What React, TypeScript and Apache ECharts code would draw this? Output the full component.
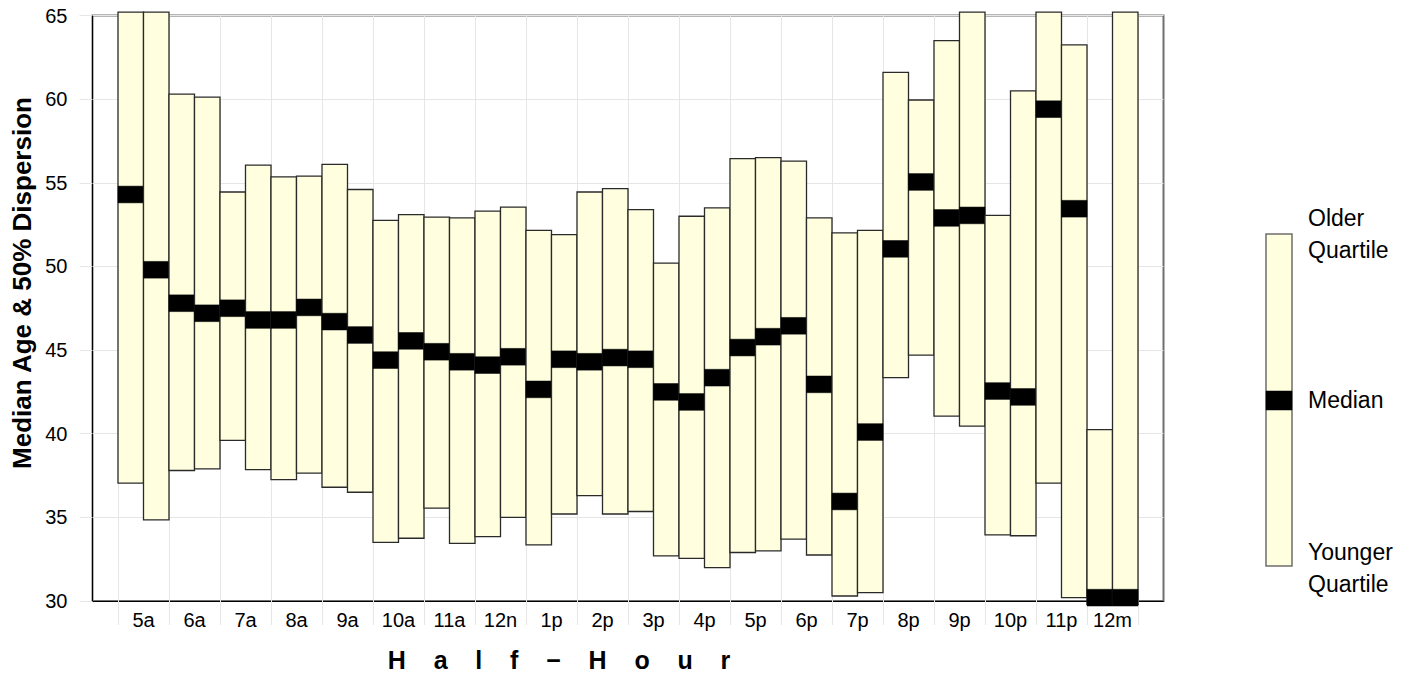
import React, { useEffect, useRef } from 'react';
import * as echarts from 'echarts';

// Hour tick labels (each hour spans two half-hour bars)
const hourLabels = ['5a', '6a', '7a', '8a', '9a', '10a', '11a', '12n', '1p', '2p', '3p', '4p', '5p', '6p', '7p', '8p', '9p', '10p', '11p', '12m'];

// Half-hour categories
const halfHours = [
  '5:00a', '5:30a', '6:00a', '6:30a', '7:00a', '7:30a', '8:00a', '8:30a', '9:00a', '9:30a',
  '10:00a', '10:30a', '11:00a', '11:30a', '12:00n', '12:30p', '1:00p', '1:30p', '2:00p', '2:30p',
  '3:00p', '3:30p', '4:00p', '4:30p', '5:00p', '5:30p', '6:00p', '6:30p', '7:00p', '7:30p',
  '8:00p', '8:30p', '9:00p', '9:30p', '10:00p', '10:30p', '11:00p', '11:30p', '12:00m', '12:30m',
];

// Older quartile (top of box)
const olderQuartile = [
  65.2, 65.2, 60.3, 60.12, 54.45, 56.05, 55.35, 55.4, 56.1, 54.6,
  52.75, 53.1, 52.95, 52.9, 53.3, 53.55, 52.15, 51.9, 54.45, 54.65,
  53.4, 50.2, 53.0, 53.5, 56.45, 56.5, 56.3, 52.9, 52.0, 52.15,
  61.6, 59.95, 63.5, 65.2, 53.05, 60.5, 65.2, 63.25, 40.25, 65.2,
];

// Median age
const medianAge = [
  54.3, 49.8, 47.8, 47.2, 47.5, 46.8, 46.8, 47.55, 46.7, 45.9,
  44.4, 45.55, 44.9, 44.3, 44.1, 44.6, 42.65, 44.45, 44.3, 44.55,
  44.45, 42.5, 41.9, 43.35, 45.15, 45.8, 46.45, 42.95, 35.95, 40.1,
  51.05, 55.05, 52.9, 53.05, 42.55, 42.2, 59.4, 53.45, 30.2, 30.2,
];

// Younger quartile (bottom of box)
const youngerQuartile = [
  37.05, 34.85, 37.8, 37.9, 39.6, 37.85, 37.25, 37.65, 36.8, 36.5,
  33.5, 33.75, 35.55, 33.45, 33.85, 35.0, 33.35, 35.2, 36.3, 35.2,
  35.35, 32.7, 32.55, 32.0, 32.9, 33.0, 33.7, 32.75, 30.3, 30.5,
  43.35, 44.7, 41.05, 40.45, 33.95, 33.9, 37.05, 30.2, 29.8, 29.8,
];

const MEDIAN_HALF = 0.5;
const FONT = '"Liberation Sans", Arial, Helvetica, sans-serif';
const BOX_FILL = '#FFFFE0';
const SP = '\u00A0\u00A0\u00A0\u00A0';

export default function App() {
  const ref = useRef<HTMLDivElement>(null);

  useEffect(() => {
    if (!ref.current) return;
    const chart = echarts.init(ref.current, null, { renderer: 'svg' });

    // 43 slot boundaries: hour labels at even positions 2..40
    const slotCats: string[] = [];
    for (let k = 0; k <= 42; k++) {
      slotCats.push(k % 2 === 0 && k >= 2 && k <= 40 ? hourLabels[k / 2 - 1] : '');
    }

    const data = halfHours.map((h, i) => [i, youngerQuartile[i], medianAge[i], olderQuartile[i]]);

    const option: any = {
      animation: false,
      backgroundColor: '#ffffff',
      textStyle: { fontFamily: FONT },
      grid: {
        left: 92.5,
        top: 15.5,
        right: 255.5,
        bottom: 74,
        show: true,
        borderColor: '#6f6f6f',
        borderWidth: 2,
        backgroundColor: '#ffffff',
      },
      xAxis: [
        {
          type: 'value',
          min: 0,
          max: 42,
          show: false,
        },
        {
          type: 'category',
          data: slotCats,
          boundaryGap: false,
          position: 'bottom',
          axisLine: { show: true, lineStyle: { color: '#000', width: 1 } },
          axisTick: {
            show: true,
            length: 24,
            interval: (idx: number) => idx % 2 === 1,
            lineStyle: { color: '#e6e6e6', width: 1 },
          },
          splitLine: {
            show: true,
            interval: (idx: number) => idx % 2 === 1,
            lineStyle: { color: '#e6e6e6', width: 1 },
          },
          axisLabel: {
            show: true,
            interval: (idx: number, val: string) => val !== '',
            fontSize: 20,
            color: '#000',
            margin: 9,
            fontFamily: FONT,
          },
        },
      ],
      yAxis: {
        type: 'value',
        min: 30,
        max: 65,
        interval: 5,
        axisLine: { show: true, lineStyle: { color: '#000', width: 1 } },
        axisTick: { show: true, length: 13, lineStyle: { color: '#e6e6e6', width: 1 } },
        splitLine: { show: true, lineStyle: { color: '#e6e6e6', width: 1 } },
        axisLabel: { fontSize: 20, color: '#000', margin: 25, fontFamily: FONT },
      },
      series: [
        {
          type: 'custom',
          xAxisIndex: 0,
          yAxisIndex: 0,
          clip: false,
          data,
          encode: { x: 0, y: [1, 2, 3] },
          renderItem: (params: any, api: any) => {
            const i = api.value(0);
            const lo = api.value(1);
            const med = api.value(2);
            const hi = api.value(3);
            const pLo = api.coord([i + 1, lo]);
            const pHi = api.coord([i + 2, hi]);
            const mTop = api.coord([i + 1, med + MEDIAN_HALF]);
            const mBot = api.coord([i + 2, med - MEDIAN_HALF]);
            return {
              type: 'group',
              children: [
                {
                  type: 'rect',
                  shape: { x: pLo[0], y: pHi[1], width: pHi[0] - pLo[0], height: pLo[1] - pHi[1] },
                  style: { fill: BOX_FILL, stroke: '#2a2a2a', lineWidth: 1.3 },
                },
                {
                  type: 'rect',
                  shape: { x: mTop[0], y: mTop[1], width: mBot[0] - mTop[0], height: mBot[1] - mTop[1] },
                  style: { fill: '#000000', stroke: '#000000', lineWidth: 0.5 },
                },
              ],
            };
          },
        },
      ],
      graphic: [
        {
          type: 'text',
          x: 22,
          y: 283,
          rotation: Math.PI / 2,
          style: {
            text: 'Median Age & 50% Dispersion',
            font: `bold 26px ${FONT}`,
            fill: '#000',
            textAlign: 'center',
            textVerticalAlign: 'middle',
          },
        },
        {
          type: 'text',
          x: 559,
          y: 660,
          style: {
            text: ['H', 'a', 'l', 'f', '\u2212', 'H', 'o', 'u', 'r'].join(SP),
            font: `bold 25px ${FONT}`,
            fill: '#000',
            textAlign: 'center',
            textVerticalAlign: 'middle',
          },
        },
        {
          type: 'rect',
          shape: { x: 1266, y: 234, width: 26, height: 332 },
          style: { fill: BOX_FILL, stroke: '#6e6e6e', lineWidth: 1.5 },
        },
        {
          type: 'rect',
          shape: { x: 1266, y: 391, width: 26, height: 19 },
          style: { fill: '#000', stroke: '#000', lineWidth: 0.5 },
        },
        {
          type: 'text',
          x: 1308,
          y: 234,
          style: {
            text: 'Older\nQuartile',
            font: `23px ${FONT}`,
            lineHeight: 32,
            fill: '#000',
            textAlign: 'left',
            textVerticalAlign: 'middle',
          },
        },
        {
          type: 'text',
          x: 1308,
          y: 400,
          style: {
            text: 'Median',
            font: `23px ${FONT}`,
            fill: '#000',
            textAlign: 'left',
            textVerticalAlign: 'middle',
          },
        },
        {
          type: 'text',
          x: 1308,
          y: 568,
          style: {
            text: 'Younger\nQuartile',
            font: `23px ${FONT}`,
            lineHeight: 32,
            fill: '#000',
            textAlign: 'left',
            textVerticalAlign: 'middle',
          },
        },
      ],
    };

    chart.setOption(option);
    return () => chart.dispose();
  }, []);

  return (
    <div
      ref={ref}
      style={{ position: 'absolute', left: 0, top: 0, width: 1419, height: 675, background: '#fff' }}
    />
  );
}
